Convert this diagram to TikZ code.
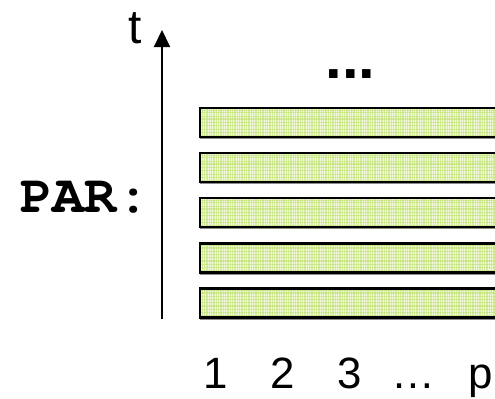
\documentclass[tikz,border=0pt]{standalone}
\usepackage{fontspec}
\setmainfont{Liberation Sans}
\newfontfamily\codefont{TeX Gyre Cursor}
\usetikzlibrary{arrows.meta}
\definecolor{plaidbase}{HTML}{F3FAE0}
\definecolor{plaidline}{HTML}{C2E276}
\tikzset{
  plaid/.style={
    path picture={
      \fill[plaidbase] (path picture bounding box.south west) rectangle (path picture bounding box.north east);
      \foreach \k in {0,...,45} {
        \foreach \o/\w in {0/1.1,2.6/0.6,4.5/0.9} {
          \draw[plaidline, line width=\w bp, opacity=0.6]
            ([xshift={7*\k bp+\o bp}]path picture bounding box.south west) --
            ([xshift={7*\k bp+\o bp}]path picture bounding box.north west);
        }
      }
      \foreach \o/\w in {2/0.9,4.5/1.1,8/0.7,11/1.1,14/0.8,17.5/1.1,21/0.7,24/1.0,27/0.8} {
        \draw[plaidline, line width=\w bp, opacity=0.6]
          ([yshift={-\o bp}]path picture bounding box.north west) --
          ([yshift={-\o bp}]path picture bounding box.north east);
      }
    }},
  barbox/.style={draw=black, line width=2.3bp, plaid, minimum width=321bp,
    minimum height=29bp, inner sep=0pt, outer sep=0pt, anchor=west,
    preaction={draw=black!45, line width=2.3bp,
      transform canvas={shift={(0.7bp,-1bp)}}}},
  axis/.style={line width=2bp, -{Triangle[width=16bp,length=17bp]}},
  sanslabel/.style={font=\fontsize{44}{48}\selectfont, inner sep=0pt, anchor=base},
  parlabel/.style={font=\codefont\bfseries\fontsize{54}{58}\selectfont, inner sep=0pt, anchor=base west}
}
\begin{document}
\begin{tikzpicture}[x=1bp,y=-1bp]
  \clip (0,0) rectangle (495,398);
  \fill[white] (0,0) rectangle (495,398);

  % time axis
  \coordinate (axbot) at (162,319);
  \coordinate (axtop) at (162,30);
  \draw[axis] (axbot) -- (axtop);
  \node[sanslabel, font=\fontsize{48}{52}\selectfont] (tlabel) at (135,43) {t};

  % stacked rows
  \foreach \i/\y in {1/122.5,2/167.5,3/212.5,4/258,5/303} {
    \node[barbox] (bar\i) at (200,\y) {};
  }
  \node[sanslabel, font=\bfseries\fontsize{60}{64}\selectfont] (more) at (350.5,78) {...};

  % row label
  \node[parlabel] (par) at (20,212) {PAR:};

  % processor indices
  \node[sanslabel] (p1) at (216,388) {1};
  \node[sanslabel] (p2) at (283,388) {2};
  \node[sanslabel] (p3) at (350,388) {3};
  \node[sanslabel] (pdots) at (413,388) {…};
  \node[sanslabel] (pp) at (481,388) {p};
\end{tikzpicture}
\end{document}
